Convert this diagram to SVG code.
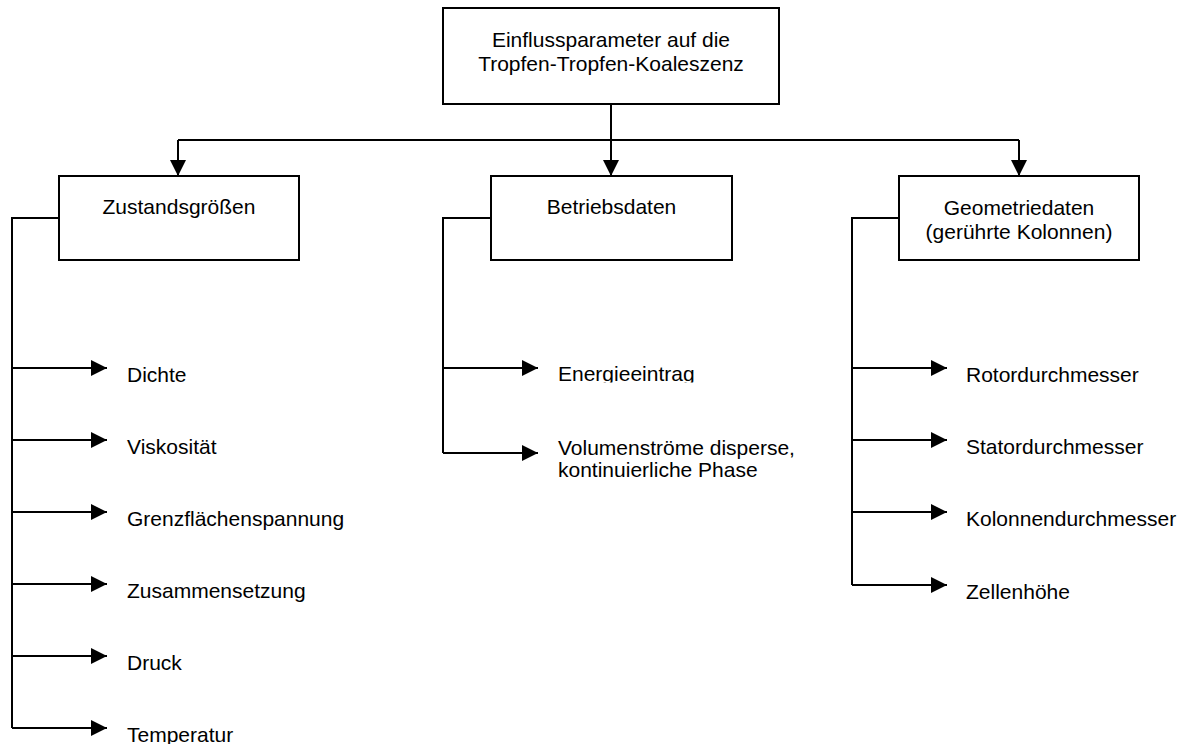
<svg xmlns="http://www.w3.org/2000/svg" width="1185" height="744" viewBox="0 0 1185 744">
  <style>
    .box { fill: #ffffff; stroke: #000000; stroke-width: 2; }
    .wire { fill: none; stroke: #000000; stroke-width: 2; }
    .arrow { fill: none; stroke: #000000; stroke-width: 2; marker-end: url(#head); }
    text { font-family: "Liberation Sans", Arial, sans-serif; font-size: 21px; fill: #000000; }
    .c { text-anchor: middle; }
  </style>
  <defs>
    <marker id="head" viewBox="0 0 16 16" refX="16" refY="8" markerWidth="16" markerHeight="16" markerUnits="userSpaceOnUse" orient="auto">
      <path d="M0,0 L16,8 L0,16 z" fill="#000000"/>
    </marker>
    <clipPath id="cutEnergie">
      <rect x="550" y="350" width="200" height="32.5"/>
    </clipPath>
  </defs>

  <rect width="1185" height="744" fill="#ffffff"/>

  <!-- connectors -->
  <g id="connectors">
    <!-- root to the three categories -->
    <line class="wire" x1="611" y1="104" x2="611" y2="140"/>
    <line class="wire" x1="178" y1="140" x2="1019" y2="140"/>
    <line class="arrow" x1="178" y1="140" x2="178" y2="176"/>
    <line class="arrow" x1="611" y1="140" x2="611" y2="176"/>
    <line class="arrow" x1="1019" y1="140" x2="1019" y2="176"/>

    <!-- Zustandsgrößen branch -->
    <polyline class="wire" points="59,218 12,218 12,728"/>
    <line class="arrow" x1="12" y1="368" x2="107" y2="368"/>
    <line class="arrow" x1="12" y1="440" x2="107" y2="440"/>
    <line class="arrow" x1="12" y1="512" x2="107" y2="512"/>
    <line class="arrow" x1="12" y1="584" x2="107" y2="584"/>
    <line class="arrow" x1="12" y1="656" x2="107" y2="656"/>
    <line class="arrow" x1="12" y1="728" x2="107" y2="728"/>

    <!-- Betriebsdaten branch -->
    <polyline class="wire" points="491,218 443,218 443,453"/>
    <line class="arrow" x1="443" y1="368" x2="538" y2="368"/>
    <line class="arrow" x1="443" y1="453" x2="538" y2="453"/>

    <!-- Geometriedaten branch -->
    <polyline class="wire" points="899,218 852,218 852,585"/>
    <line class="arrow" x1="852" y1="368" x2="947" y2="368"/>
    <line class="arrow" x1="852" y1="440" x2="947" y2="440"/>
    <line class="arrow" x1="852" y1="512" x2="947" y2="512"/>
    <line class="arrow" x1="852" y1="585" x2="947" y2="585"/>
  </g>

  <!-- root node -->
  <g id="root">
    <rect class="box" x="443" y="8" width="336" height="96"/>
    <text class="c" x="611" y="47">Einflussparameter auf die</text>
    <text class="c" x="611" y="71">Tropfen-Tropfen-Koaleszenz</text>
  </g>

  <!-- category nodes -->
  <g id="zustandsgroessen">
    <rect class="box" x="59" y="176" width="240" height="84"/>
    <text class="c" x="179" y="214">Zustandsgrößen</text>
  </g>
  <g id="betriebsdaten">
    <rect class="box" x="491" y="176" width="241" height="84"/>
    <text class="c" x="611.5" y="214">Betriebsdaten</text>
  </g>
  <g id="geometriedaten">
    <rect class="box" x="899" y="176" width="240" height="84"/>
    <text class="c" x="1019" y="215">Geometriedaten</text>
    <text class="c" x="1019" y="239">(gerührte Kolonnen)</text>
  </g>

  <!-- leaf labels -->
  <g id="dichte"><text x="127" y="382">Dichte</text></g>
  <g id="viskositaet"><text x="127" y="454">Viskosität</text></g>
  <g id="grenzflaechenspannung"><text x="127" y="526">Grenzflächenspannung</text></g>
  <g id="zusammensetzung"><text x="127" y="598">Zusammensetzung</text></g>
  <g id="druck"><text x="127" y="670">Druck</text></g>
  <g id="temperatur"><text x="127" y="742">Temperatur</text></g>

  <g id="energieeintrag"><text x="558" y="381" clip-path="url(#cutEnergie)">Energieeintrag</text></g>
  <g id="volumenstroeme">
    <text x="558" y="455">Volumenströme disperse,</text>
    <text x="558" y="477">kontinuierliche Phase</text>
  </g>

  <g id="rotordurchmesser"><text x="966" y="382">Rotordurchmesser</text></g>
  <g id="statordurchmesser"><text x="966" y="454">Statordurchmesser</text></g>
  <g id="kolonnendurchmesser"><text x="966" y="526">Kolonnendurchmesser</text></g>
  <g id="zellenhoehe"><text x="966" y="599">Zellenhöhe</text></g>
</svg>
